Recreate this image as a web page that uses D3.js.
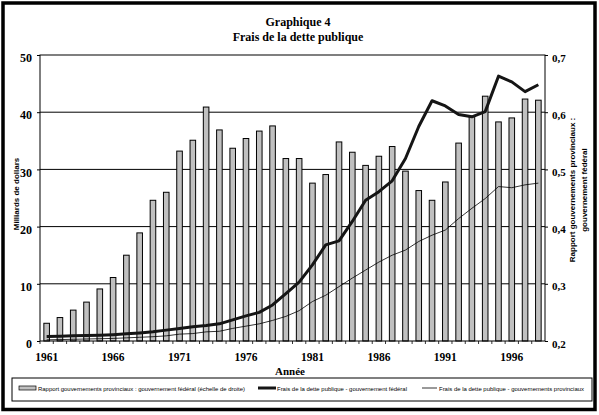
<!DOCTYPE html>
<head>
  <meta charset="utf-8">
  <style>
    body { margin: 0; background: #fff; }
    .title { font-family: "Liberation Serif", serif; font-size: 12px; font-weight: bold; }
    .tick text { font-family: "Liberation Serif", serif; font-size: 12px; font-weight: bold; fill: #000; }
    .axis-title { font-family: "Liberation Sans", sans-serif; font-size: 8px; font-weight: bold; }
    .legend-text { font-family: "Liberation Sans", sans-serif; font-size: 6px; }
    .bar { fill: #c0c0c0; stroke: #000; stroke-width: 1; }
  </style>
  <title>Graphique 4 - Frais de la dette publique</title>
</head>
<body>
  <script src="https://cdn.jsdelivr.net/npm/d3@7/dist/d3.min.js"></script>
  <script>
    // data
    const years = [1961, 1962, 1963, 1964, 1965, 1966, 1967, 1968, 1969, 1970,
                   1971, 1972, 1973, 1974, 1975, 1976, 1977, 1978, 1979, 1980,
                   1981, 1982, 1983, 1984, 1985, 1986, 1987, 1988, 1989, 1990,
                   1991, 1992, 1993, 1994, 1995, 1996, 1997, 1998];
    // ratio provincial : federal (right scale)
    const ratio = [0.231, 0.241, 0.254, 0.268, 0.291, 0.311, 0.350, 0.389, 0.446, 0.460,
                   0.532, 0.551, 0.609, 0.569, 0.537, 0.554, 0.567, 0.576, 0.519, 0.519,
                   0.476, 0.491, 0.548, 0.530, 0.507, 0.523, 0.540, 0.497, 0.463, 0.446,
                   0.478, 0.546, 0.593, 0.628, 0.583, 0.590, 0.623, 0.621];
    // debt charges, billions of dollars (left scale)
    const federal = [0.8, 0.85, 0.9, 0.95, 1.0, 1.1, 1.25, 1.4, 1.6, 1.9,
                     2.2, 2.5, 2.7, 3.0, 3.7, 4.4, 5.0, 6.3, 8.3, 10.3,
                     13.3, 16.8, 17.5, 20.9, 24.6, 26.1, 28.0, 31.9, 37.5, 42.0,
                     41.1, 39.6, 39.2, 40.1, 46.3, 45.3, 43.6, 44.8];
    const provincial = [0.2, 0.25, 0.3, 0.35, 0.4, 0.45, 0.55, 0.65, 0.75, 0.9,
                        1.2, 1.3, 1.6, 1.7, 2.2, 2.6, 3.0, 3.6, 4.3, 5.3,
                        6.9, 8.0, 9.5, 11.0, 12.4, 13.8, 15.0, 15.9, 17.4, 18.5,
                        19.4, 21.4, 23.2, 24.9, 27.0, 26.8, 27.3, 27.6];
    const leftTicks = [0, 10, 20, 30, 40, 50];
    const rightTicks = [0.2, 0.3, 0.4, 0.5, 0.6, 0.7];
    const yearLabels = [1961, 1966, 1971, 1976, 1981, 1986, 1991, 1996];

    const W = 599, H = 415;
    const plot = { left: 40, right: 545, top: 55, bottom: 341 };

    const svg = d3.select("body").append("svg")
      .attr("width", W)
      .attr("height", H);

    svg.append("rect").attr("width", W).attr("height", H).attr("fill", "#fff");

    // scales
    const x = d3.scaleBand()
      .domain(years)
      .range([plot.left, plot.right])
      .paddingInner(0.58)
      .paddingOuter(0.29);
    const yL = d3.scaleLinear().domain([0, 50]).range([plot.bottom, plot.top]);
    const yR = d3.scaleLinear().domain([0.2, 0.7]).range([plot.bottom, plot.top]);
    const cx = d => x(d) + x.bandwidth() / 2;

    // title
    svg.append("text").attr("class", "title")
      .attr("x", 298).attr("y", 26).attr("text-anchor", "middle")
      .text("Graphique 4");
    svg.append("text").attr("class", "title")
      .attr("x", 298).attr("y", 41).attr("text-anchor", "middle")
      .text("Frais de la dette publique");

    // gridlines
    svg.append("g").selectAll("line")
      .data(leftTicks.slice(1, -1))
      .enter().append("line")
      .attr("x1", plot.left).attr("x2", plot.right)
      .attr("y1", d => yL(d)).attr("y2", d => yL(d))
      .attr("stroke", "#000").attr("stroke-width", 1);

    // bars (right scale)
    svg.append("g").selectAll("rect")
      .data(years)
      .enter().append("rect")
      .attr("class", "bar")
      .attr("x", d => x(d))
      .attr("width", x.bandwidth())
      .attr("y", (d, i) => yR(ratio[i]))
      .attr("height", (d, i) => yR(0.2) - yR(ratio[i]));

    // lines (left scale)
    const line = d3.line().x(d => cx(d[0])).y(d => yL(d[1]));
    svg.append("path")
      .datum(years.map((d, i) => [d, provincial[i]]))
      .attr("d", line)
      .attr("fill", "none").attr("stroke", "#000").attr("stroke-width", 0.8);
    svg.append("path")
      .datum(years.map((d, i) => [d, federal[i]]))
      .attr("d", line)
      .attr("fill", "none").attr("stroke", "#151515").attr("stroke-width", 3)
      .attr("stroke-linejoin", "round");

    // plot frame
    svg.append("rect")
      .attr("x", plot.left).attr("y", plot.top)
      .attr("width", plot.right - plot.left).attr("height", plot.bottom - plot.top)
      .attr("fill", "none").attr("stroke", "#000").attr("stroke-width", 1);

    // axes
    const comma = d3.formatLocale({ decimal: ",", thousands: " ", grouping: [3], currency: ["", " $"] }).format(".1f");

    const leftAxis = svg.append("g")
      .attr("transform", `translate(${plot.left},0)`)
      .call(d3.axisLeft(yL).tickValues(leftTicks).tickSize(3).tickPadding(5));
    leftAxis.select(".domain").remove();
    leftAxis.selectAll("text").attr("dy", "0.55em");

    const rightAxis = svg.append("g")
      .attr("transform", `translate(${plot.right},0)`)
      .call(d3.axisRight(yR).tickValues(rightTicks).tickFormat(comma).tickSize(3).tickPadding(4));
    rightAxis.select(".domain").remove();
    rightAxis.selectAll("text").attr("dy", "0.55em").style("font-size", "11px");

    const bottomAxis = svg.append("g")
      .attr("transform", `translate(0,${plot.bottom})`)
      .call(d3.axisBottom(x).tickValues(yearLabels).tickSize(0).tickPadding(12));
    bottomAxis.select(".domain").remove();
    bottomAxis.selectAll("text").style("font-size", "11.5px");

    // small ticks between categories
    svg.append("g").selectAll("line")
      .data(years)
      .enter().append("line")
      .attr("x1", d => cx(d) - x.step() / 2).attr("x2", d => cx(d) - x.step() / 2)
      .attr("y1", plot.bottom).attr("y2", plot.bottom + 3)
      .attr("stroke", "#000").attr("stroke-width", 0.8);

    // axis titles
    svg.append("text")
      .attr("x", 290).attr("y", 375)
      .attr("text-anchor", "middle")
      .attr("class", "title").style("font-size", "11px")
      .text("Année");

    svg.append("text")
      .attr("class", "axis-title")
      .attr("transform", "translate(19,194) rotate(-90)")
      .attr("text-anchor", "middle")
      .text("Milliards de dollars");

    svg.append("text")
      .attr("class", "axis-title")
      .attr("transform", "translate(575,190) rotate(-90)")
      .attr("text-anchor", "middle")
      .text("Rapport gouvernements provinciaux :");
    svg.append("text")
      .attr("class", "axis-title")
      .attr("transform", "translate(587,190) rotate(-90)")
      .attr("text-anchor", "middle")
      .text("gouvernement fédéral");

    // legend
    const legend = svg.append("g").attr("id", "legend");
    legend.append("rect")
      .attr("x", 12).attr("y", 378).attr("width", 580).attr("height", 23)
      .attr("fill", "#fff").attr("stroke", "#000").attr("stroke-width", 1);

    legend.append("rect")
      .attr("x", 19).attr("y", 386).attr("width", 17).attr("height", 4)
      .attr("fill", "#c0c0c0").attr("stroke", "#000").attr("stroke-width", 0.7);
    legend.append("text").attr("class", "legend-text")
      .attr("x", 38).attr("y", 390.5)
      .attr("textLength", 207).attr("lengthAdjust", "spacingAndGlyphs")
      .text("Rapport gouvernements provinciaux : gouvernement fédéral (échelle de droite)");

    legend.append("line")
      .attr("x1", 258).attr("x2", 276).attr("y1", 388).attr("y2", 388)
      .attr("stroke", "#151515").attr("stroke-width", 3);
    legend.append("text").attr("class", "legend-text")
      .attr("x", 277).attr("y", 390.5)
      .attr("textLength", 130).attr("lengthAdjust", "spacingAndGlyphs")
      .text("Frais de la dette publique - gouvernement fédéral");

    legend.append("line")
      .attr("x1", 422).attr("x2", 437).attr("y1", 388).attr("y2", 388)
      .attr("stroke", "#000").attr("stroke-width", 0.8);
    legend.append("text").attr("class", "legend-text")
      .attr("x", 439).attr("y", 390.5)
      .attr("textLength", 145).attr("lengthAdjust", "spacingAndGlyphs")
      .text("Frais de la dette publique - gouvernements provinciaux");

    // outer frame
    svg.append("rect")
      .attr("x", 3).attr("y", 3).attr("width", 592).attr("height", 406.5)
      .attr("fill", "none").attr("stroke", "#000").attr("stroke-width", 3.5);
  </script>
</body>
